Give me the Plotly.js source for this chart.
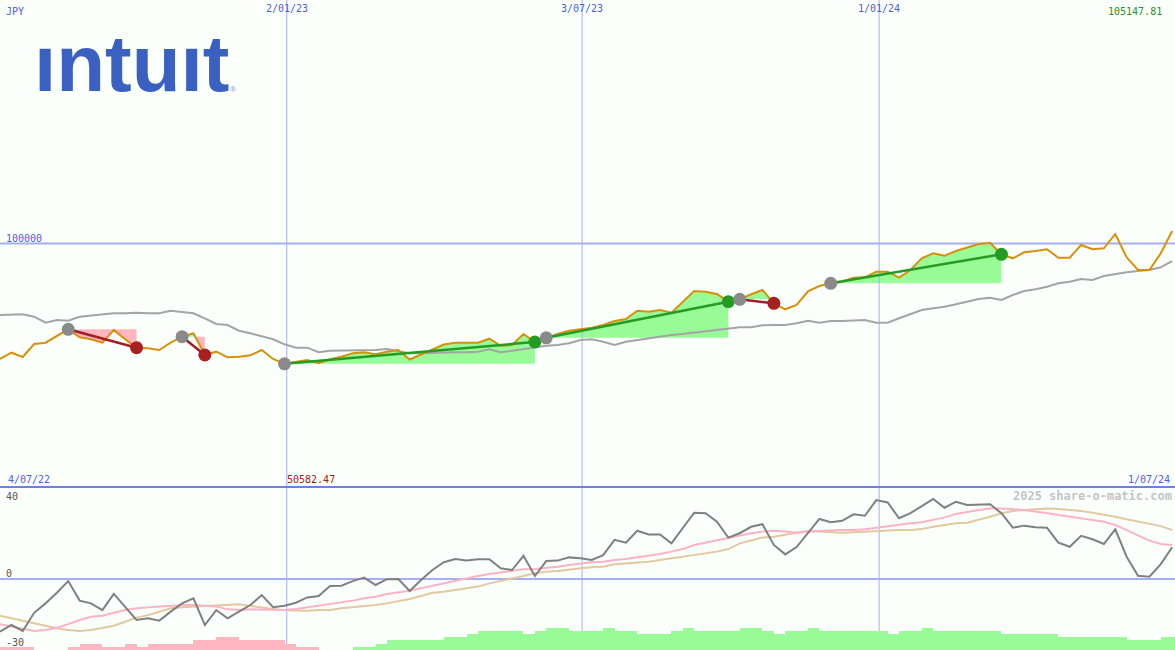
<!DOCTYPE html>
<html>
<head>
<meta charset="utf-8">
<script src="https://cdn.plot.ly/plotly-3.0.1.min.js"></script>
<style>html,body{margin:0;padding:0;background:#fbfffb;}</style>
</head>
<body>
<div id="chart" style="width:1175px;height:650px"></div>
<script>
// ---------- data (weekly, index = week number from 4/07/22) ----------
const currency = 'JPY';
const companyName = 'ıntuıt';
const startLabel = '4/07/22';
const endLabel = '1/07/24';
const gridLabels = ['2/01/23', '3/07/23', '1/01/24'];
const gridWeeks = [25.2, 51.15, 77.25];
const refLevel = 100000;
const lastPrice = 105147.81;
const minPrice = 50582.47;
const watermark = '2025 share-o-matic.com';
const oscTicks = [40, 0, -30];

const price = [
  52570, 55150, 53390, 58730, 59260, 62010, 64760, 61480, 60660, 59260,
  64480, 60660, 57210, 56960, 56260, 59260, 61730, 63120, 54210, 55570,
  53270, 53510, 54090, 56260, 52570, 50582.47, 51460, 52160, 50800, 52440,
  53510, 54910, 55320, 54500, 55570, 56260, 52360, 54420, 56760, 58520,
  59260, 59260, 59260, 60900, 57990, 58320, 62830, 59550, 61270, 62830,
  64190, 64890, 65420, 66530, 68170, 68990, 72400, 71990, 72690, 71580,
  76100, 80490, 80210, 79260, 76100, 77080, 79140, 80900, 75440, 72980,
  74740, 80370, 82550, 83660, 84310, 85960, 86120, 88420, 88420, 85960,
  89120, 93920, 95980, 94990, 96920, 98280, 99800, 100330, 95570, 93920,
  96390, 96920, 97620, 94170, 94170, 99380, 97620, 98030, 103900, 94330,
  89120, 89120, 95980, 105147.81
];
const priceMA = [
  70640, 70920, 70920, 69940, 67470, 68580, 68300, 69940, 70350, 70920,
  71340, 71340, 71580, 71340, 71340, 72400, 71750, 71340, 69280, 66940,
  66530, 64190, 63120, 62010, 60660, 58600, 57210, 57210, 55320, 55980,
  55980, 55980, 56260, 56260, 56670, 55850, 54910, 54910, 55150, 55320,
  55320, 55320, 55570, 56550, 55320, 55980, 56670, 57620, 58030, 58320,
  59010, 60370, 60660, 59670, 58320, 59670, 60370, 61070, 61730, 62420,
  62830, 63370, 63780, 64480, 65010, 65590, 65590, 66410, 66530, 66530,
  67230, 68300, 67470, 68170, 68170, 68300, 68580, 67470, 67470, 69280,
  70920, 72690, 73390, 74050, 75030, 76100, 77210, 77740, 76800, 78850,
  80490, 81190, 82260, 83660, 84310, 85420, 85010, 86650, 87470, 88170,
  88710, 89120, 90230, 92810
];
const osc = [
  -22.9, -20.0, -22.6, -14.7, -10.6, -6.0, -0.9, -9.4, -10.6, -13.5,
  -6.5, -12.3, -17.8, -17.1, -18.1, -14.2, -10.6, -8.4, -20.0, -13.5,
  -17.1, -14.2, -11.3, -7.0, -12.3, -11.6, -10.3, -8.0, -7.4, -3.0,
  -2.9, -0.9, 0.6, -2.6, -0.1, 0.0, -5.2, -0.4, 3.9, 7.3,
  8.7, 8.0, 8.6, 8.6, 4.7, 3.9, 10.1, 1.3, 7.8, 8.0,
  9.4, 9.0, 8.3, 10.4, 17.0, 15.8, 21.0, 19.4, 19.4, 15.5,
  22.0, 28.8, 28.6, 24.9, 18.0, 19.9, 22.7, 23.8, 14.8, 10.7,
  13.9, 19.9, 26.1, 24.7, 25.3, 28.1, 27.5, 34.3, 33.3, 26.4,
  28.6, 31.7, 34.8, 31.0, 33.6, 32.2, 32.5, 32.5, 28.6, 22.3,
  23.2, 22.5, 22.3, 15.8, 14.0, 18.8, 17.3, 15.2, 21.6, 9.7,
  1.4, 1.0, 6.5, 13.8
];
const oscFast = [
  -19.7, -20.7, -21.9, -22.6, -22.2, -21.2, -19.6, -17.8, -16.4, -16.0,
  -14.7, -13.5, -12.7, -12.5, -12.0, -11.7, -11.3, -11.3, -11.6, -12.0,
  -13.2, -13.5, -13.2, -13.2, -13.2, -13.5, -13.0, -12.3, -11.7, -11.0,
  -10.3, -9.4, -8.4, -7.7, -6.5, -5.8, -5.1, -4.0, -2.9, -1.9,
  -0.7, 0.3, 1.3, 2.2, 2.9, 3.5, 4.2, 4.3, 4.7, 5.3,
  6.1, 6.8, 7.3, 7.5, 8.3, 8.7, 9.4, 10.0, 10.9, 11.9,
  13.0, 14.8, 15.8, 17.0, 17.7, 18.7, 19.9, 20.6, 21.0, 20.6,
  20.1, 20.6, 20.9, 21.3, 21.3, 21.3, 21.6, 22.3, 23.0, 23.8,
  24.2, 24.7, 25.7, 26.8, 28.3, 29.3, 30.0, 30.7, 30.7, 30.3,
  30.0, 29.3, 28.6, 27.8, 27.1, 26.4, 25.7, 24.9, 23.5, 21.3,
  18.8, 16.7, 15.2, 14.8
];
const oscSlow = [
  -16.0, -17.1, -18.1, -19.3, -20.4, -21.4, -22.2, -22.6, -22.2, -21.4,
  -20.3, -18.6, -16.8, -15.7, -14.2, -12.7, -12.3, -12.0, -12.0, -11.7,
  -11.3, -11.0, -11.7, -12.5, -13.0, -13.6, -13.8, -13.8, -13.5, -13.5,
  -12.7, -12.3, -11.7, -11.3, -10.6, -9.7, -8.7, -7.4, -6.0, -5.5,
  -4.8, -4.3, -3.3, -1.9, -0.9, 0.3, 1.3, 2.5, 3.2, 3.5,
  4.2, 4.7, 5.1, 5.3, 6.4, 6.8, 7.3, 7.5, 8.3, 9.0,
  9.7, 10.4, 11.2, 11.9, 13.0, 15.5, 16.7, 18.0, 18.4, 19.1,
  20.1, 20.9, 20.6, 20.3, 20.1, 20.3, 20.6, 21.0, 21.3, 21.3,
  21.3, 21.7, 22.7, 23.5, 24.2, 24.5, 25.7, 27.1, 28.6, 29.6,
  30.0, 30.4, 30.7, 30.4, 30.0, 29.6, 28.8, 28.1, 27.1, 26.0,
  24.9, 23.9, 23.0, 21.3
];
const histo = [
  -1, -1, -1, 0, 0, 0, -1, -2, -2, -1,
  -1, -2, -1, -2, -2, -2, -2, -3, -3, -4,
  -4, -3, -3, -3, -3, -2, -1, -1, 0, 0,
  0, 1, 1, 2, 3, 3, 3, 3, 3, 4,
  4, 5, 6, 6, 6, 6, 5, 6, 7, 7,
  6, 6, 6, 7, 6, 6, 5, 5, 5, 6,
  7, 6, 6, 6, 6, 7, 7, 6, 5, 6,
  6, 7, 6, 6, 6, 6, 6, 6, 5, 6,
  6, 7, 6, 6, 6, 6, 6, 6, 5, 5,
  5, 5, 5, 4, 4, 4, 4, 4, 4, 3,
  3, 3, 4, 4
];
const tradeEntry = [6, 16, 25, 48, 65, 73];
const tradeExit  = [12, 18, 47, 64, 68, 88];

// ---------- styling ----------
const W = 1175, H = 650;
const split = 163 / H;            // bottom panel height fraction
const xMax = 103.25;
const BG = '#fbfffb';
const GRID = '#a4aef2';
const MONO = 'DejaVu Sans Mono, monospace';
const GREEN_FILL = '#98fb98', PINK_FILL = '#ffb6c1';

const weeks = price.map((_, i) => i);
const traces = [];

// trade shading (between entry level and price)
tradeEntry.forEach((e, j) => {
  const x1 = tradeExit[j];
  const level = price[e];
  const xs = [], up = [], dn = [];
  for (let i = e; i <= x1; i++) {
    if (i > e) {
      const a = price[i - 1] - level, b = price[i] - level;
      if (a * b < 0) { const t = a / (a - b); xs.push(i - 1 + t); up.push(level); dn.push(level); }
    }
    xs.push(i); up.push(Math.max(price[i], level)); dn.push(Math.min(price[i], level));
  }
  const base = xs.map(() => level);
  const common = {mode: 'lines', line: {width: 0}, hoverinfo: 'skip', xaxis: 'x', yaxis: 'y'};
  traces.push(Object.assign({x: xs, y: base}, common));
  traces.push(Object.assign({x: xs, y: up, fill: 'tonexty', fillcolor: GREEN_FILL}, common));
  traces.push(Object.assign({x: xs, y: base}, common));
  traces.push(Object.assign({x: xs, y: dn, fill: 'tonexty', fillcolor: PINK_FILL}, common));
});

// grid lines (top panel)
gridWeeks.forEach(g => {
  traces.push({x: [g, g], y: [0, 200000], mode: 'lines', line: {color: GRID, width: 1}, xaxis: 'x', yaxis: 'y', hoverinfo: 'skip'});
});
traces.push({x: [0, xMax], y: [refLevel, refLevel], mode: 'lines', line: {color: GRID, width: 2}, xaxis: 'x', yaxis: 'y', hoverinfo: 'skip'});

// moving average and price
traces.push({x: weeks, y: priceMA, mode: 'lines', line: {color: '#a4a4a4', width: 2}, xaxis: 'x', yaxis: 'y'});
traces.push({x: weeks, y: price, mode: 'lines', line: {color: '#d8900a', width: 2}, xaxis: 'x', yaxis: 'y'});

// trade lines and markers
tradeEntry.forEach((e, j) => {
  const x1 = tradeExit[j];
  const win = price[x1] >= price[e];
  traces.push({x: [e, x1], y: [price[e], price[x1]], mode: 'lines',
    line: {color: win ? '#249c24' : '#a31c26', width: 2.5}, xaxis: 'x', yaxis: 'y'});
  traces.push({x: [x1], y: [price[x1]], mode: 'markers',
    marker: {size: 13, color: win ? '#249c24' : '#a82020'}, xaxis: 'x', yaxis: 'y'});
  traces.push({x: [e], y: [price[e]], mode: 'markers',
    marker: {size: 13, color: '#8a8a8a'}, xaxis: 'x', yaxis: 'y'});
});

// bottom panel grid
const y2lo = -(650 - 579) / 2.3;
gridWeeks.forEach(g => {
  traces.push({x: [g, g], y: [y2lo, 40], mode: 'lines', line: {color: GRID, width: 1}, xaxis: 'x', yaxis: 'y2', hoverinfo: 'skip'});
});
traces.push({x: [0, xMax], y: [0, 0], mode: 'lines', line: {color: GRID, width: 2}, xaxis: 'x', yaxis: 'y2', hoverinfo: 'skip'});

// oscillator lines
traces.push({x: weeks, y: oscSlow, mode: 'lines', line: {color: '#e2c99e', width: 2}, xaxis: 'x', yaxis: 'y2'});
traces.push({x: weeks, y: oscFast, mode: 'lines', line: {color: '#fbb2c6', width: 2}, xaxis: 'x', yaxis: 'y2'});
traces.push({x: weeks, y: osc, mode: 'lines', line: {color: '#808080', width: 2}, xaxis: 'x', yaxis: 'y2'});

// histogram bars
traces.push({type: 'bar', x: weeks.map(i => i + 0.5), y: histo.map(v => Math.abs(v)), width: 1,
  marker: {color: histo.map(v => v < 0 ? PINK_FILL : GREEN_FILL), line: {width: 0}},
  xaxis: 'x', yaxis: 'y3'});

const px = x => x / W;
const py = y => 1 - y / H;

const annotations = [
  {text: companyName, x: px(33), y: py(18), xanchor: 'left', yanchor: 'top',
   font: {family: 'Liberation Sans, Arial, sans-serif', size: 80, color: '#3a61c2', weight: 700}},
  {text: '®', x: px(229), y: py(90), xanchor: 'left', yanchor: 'middle',
   font: {family: 'Liberation Sans, Arial, sans-serif', size: 8, color: '#8195d6'}},
  {text: currency, x: px(5), y: py(12), xanchor: 'left', yanchor: 'middle', font: {family: MONO, size: 10, color: '#4d5de6'}},
  {text: lastPrice.toFixed(2), x: px(1163), y: py(12), xanchor: 'right', yanchor: 'middle', font: {family: MONO, size: 10, color: '#22922a'}},
  {text: String(refLevel), x: px(5), y: py(238), xanchor: 'left', yanchor: 'middle', font: {family: MONO, size: 10, color: '#4d5de6'}},
  {text: startLabel, x: px(7), y: py(479), xanchor: 'left', yanchor: 'middle', font: {family: MONO, size: 10, color: '#4d5de6'}},
  {text: minPrice.toFixed(2), x: px(286), y: py(479), xanchor: 'left', yanchor: 'middle', font: {family: MONO, size: 10, color: '#9a1a1a'}},
  {text: endLabel, x: px(1171), y: py(479), xanchor: 'right', yanchor: 'middle', font: {family: MONO, size: 10, color: '#4d5de6'}},
  {text: String(oscTicks[0]), x: px(5), y: py(496), xanchor: 'left', yanchor: 'middle', font: {family: MONO, size: 10, color: '#555555'}},
  {text: String(oscTicks[1]), x: px(5), y: py(573), xanchor: 'left', yanchor: 'middle', font: {family: MONO, size: 10, color: '#555555'}},
  {text: String(oscTicks[2]), x: px(5), y: py(642), xanchor: 'left', yanchor: 'middle', font: {family: MONO, size: 10, color: '#555555'}},
  {text: '<b>' + watermark + '</b>', x: px(1173), y: py(496), xanchor: 'right', yanchor: 'middle', font: {family: MONO, size: 12, color: '#c4c4c4'}}
];
gridLabels.forEach((t, i) => {
  annotations.push({text: t, x: gridWeeks[i], xref: 'x', y: py(9), xanchor: 'center', yanchor: 'middle',
    font: {family: MONO, size: 10, color: '#4d5de6'}});
});
annotations.forEach(a => { if (!a.xref) a.xref = 'paper'; a.yref = 'paper'; a.showarrow = false; a.borderpad = 0; });

const layout = {
  width: W, height: H,
  margin: {l: 0, r: 0, t: 0, b: 0, pad: 0},
  paper_bgcolor: BG, plot_bgcolor: BG,
  showlegend: false, bargap: 0,
  xaxis: {range: [0, xMax], domain: [0, 1], anchor: 'y', visible: false, fixedrange: true},
  yaxis: {domain: [split, 1], range: [0, 200000], visible: false, fixedrange: true},
  yaxis2: {domain: [0, split], range: [y2lo, 40], visible: false, anchor: 'x', fixedrange: true},
  yaxis3: {overlaying: 'y2', range: [0, 163 / 3.2], visible: false, anchor: 'x', fixedrange: true},
  shapes: [
    {type: 'line', xref: 'paper', yref: 'paper', x0: 0, x1: 1, y0: split, y1: split,
     line: {color: '#6f7fe8', width: 2}, layer: 'above'}
  ],
  annotations: annotations
};

Plotly.newPlot('chart', traces, layout, {staticPlot: true, displayModeBar: false});
</script>
</body>
</html>
